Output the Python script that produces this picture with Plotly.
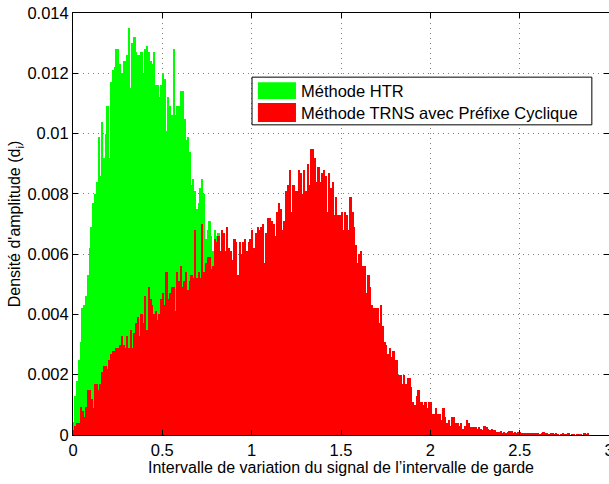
import numpy as np
import plotly.graph_objects as go

# Histogram bin width on the x axis
BIN_WIDTH = 0.01

# Amplitude density per bin, HTR method (bins start at x = 0)
htr_density = [
    0.00044, 0.0013, 0.0018, 0.0025, 0.0031, 0.0042, 0.0043, 0.0046, 0.0053, 0.0062,
    0.0069, 0.0077, 0.0080, 0.0084, 0.0099, 0.0086, 0.0104, 0.0092, 0.0100, 0.0109,
    0.0092, 0.0117, 0.0121, 0.0122, 0.0128, 0.0128, 0.0123, 0.0120, 0.0124, 0.0124,
    0.0126, 0.0135, 0.0115, 0.0130, 0.0132, 0.0127, 0.0126,
    0.0126, 0.0127, 0.0120, 0.0128, 0.0129, 0.0127, 0.0124, 0.0123, 0.0127, 0.0116,
    0.0116, 0.0112, 0.0116, 0.0120, 0.0118, 0.0101, 0.0112, 0.0109, 0.0106, 0.0128,
    0.0106, 0.0109, 0.0109, 0.0114, 0.0114, 0.0105, 0.0098, 0.0099, 0.0094, 0.0083,
    0.0085, 0.0081, 0.0075, 0.0077, 0.0082, 0.0085, 0.0080, 0.0065, 0.0068, 0.0071,
    0.0066, 0.0061,
    0.0068, 0.0066, 0.0067, 0.0056,
]

# Amplitude density per bin, TRNS method with cyclic prefix (bins start at x = 0)
trns_density = [
    # 0.00 - 0.37
    0.00017, 0.0003, 0.0004, 0.0004, 0.00094, 0.0008, 0.0006, 0.00094, 0.0015, 0.0015,
    0.0012, 0.0009, 0.0017, 0.0017, 0.0015, 0.0017, 0.0021, 0.0023, 0.0023, 0.0022,
    0.0025, 0.0027, 0.0028, 0.0028, 0.0029, 0.0029, 0.0030, 0.0033, 0.0030, 0.0029,
    0.0033, 0.0029, 0.0035, 0.0029, 0.0034, 0.0037, 0.0039,
    # 0.37 - 0.79
    0.0033, 0.0040, 0.0037, 0.0046, 0.0035, 0.0049, 0.0045, 0.0043, 0.0040, 0.0041,
    0.0038, 0.0040, 0.0045, 0.0047, 0.0043, 0.0054, 0.0045, 0.0047, 0.0049, 0.0049,
    0.0041, 0.0054, 0.0051, 0.0056, 0.0049, 0.0051, 0.0054, 0.0048, 0.0051, 0.0053,
    0.0052, 0.0068, 0.0052, 0.0054, 0.0052, 0.0070, 0.0054, 0.0057, 0.0059, 0.0059,
    0.0055, 0.0056,
    # 0.79 - 1.36
    0.0065, 0.0064, 0.0066, 0.0061, 0.0068, 0.0067, 0.0061, 0.0069, 0.0062, 0.0061,
    0.0058, 0.0065, 0.0064, 0.0053, 0.0064, 0.0060, 0.0064, 0.0065, 0.0061, 0.0064,
    0.0065, 0.0068, 0.0062, 0.0067, 0.0069, 0.0068, 0.0069, 0.0070, 0.0057, 0.0067,
    0.0072, 0.0072, 0.0071, 0.0070, 0.0066, 0.0074, 0.0077, 0.0075, 0.0068, 0.0071,
    0.0081, 0.0083, 0.0088, 0.0074, 0.0083, 0.0081, 0.0081, 0.0088, 0.0087, 0.0080,
    0.0088, 0.0081, 0.0090, 0.0083, 0.0095, 0.0095, 0.0092,
    # 1.36 - 1.99
    0.0084, 0.0089, 0.0084, 0.0087, 0.0088, 0.0086, 0.0074, 0.0087, 0.0082, 0.0084,
    0.0073, 0.0079, 0.0073, 0.0073, 0.0074, 0.0068, 0.0074, 0.0073, 0.0068, 0.0079,
    0.0074, 0.0069, 0.0063, 0.0057, 0.0060, 0.0061, 0.0056, 0.0056, 0.0047, 0.0053,
    0.0049, 0.0043, 0.0042, 0.0042, 0.0042, 0.0037, 0.0043, 0.0036, 0.0031, 0.0030,
    0.0027, 0.0029, 0.0026, 0.0028, 0.0025, 0.0025, 0.0020, 0.0020, 0.0017, 0.0020,
    0.0017, 0.0019, 0.0019, 0.0016, 0.0011, 0.0010, 0.0013, 0.0015, 0.0011, 0.0011,
    0.0010, 0.0011, 0.0009,
    # 1.99 - 2.38
    0.0011, 0.0011, 0.0007, 0.0007, 0.0009, 0.0007, 0.0007, 0.0005, 0.0009, 0.0006,
    0.0004, 0.0005, 0.0003, 0.0006, 0.0006, 0.0004, 0.0004, 0.0003, 0.0004, 0.0002,
    0.0003, 0.0005, 0.0004, 0.00028, 0.00028, 0.00028, 0.00028, 0.0002, 0.00028, 0.0002,
    0.00017, 0.0003, 0.00025, 0.0002, 0.00017, 0.0002, 0.00017, 0.00017, 0.0001,
    # 2.38 - 2.90
    0.0001, 0.00012, 0.00008, 0.0001, 0.00006, 0.0001, 0.00014, 0.00012, 0.00008, 0.0001,
    0.00006, 0.0001, 0.0001, 0.00004, 0.00008, 0.00006, 0.00004, 0.00008, 0.00008, 0.00004,
    0.00006, 0.00008, 0.00004, 0.00002, 0.00006, 0.0001, 0.00004, 0.00004, 0.00002, 0.00006,
    0.00006, 0.00002, 0.00004, 0.00002, 0.0, 0.00002, 0.00004, 0.00002, 0.00002, 0.00004,
    0.0, 0.00002, 0.00002, 0.0, 0.00002, 0.00002, 0.00002, 0.0, 0.00004, 0.00002,
    0.00004, 0.0,
]

series_names = ["Méthode HTR", "Méthode TRNS avec Préfixe Cyclique"]
series_colors = ["#00ff00", "#ff0000"]

x_tickvals = [0, 0.5, 1, 1.5, 2, 2.5, 3]
x_ticktext = ["0", "0.5", "1", "1.5", "2", "2.5", "3"]
y_tickvals = [0, 0.002, 0.004, 0.006, 0.008, 0.01, 0.012, 0.014]
y_ticktext = ["0", "0.002", "0.004", "0.006", "0.008", "0.01", "0.012", "0.014"]

x_title = "Intervalle de variation du signal de l’intervalle de garde"
y_title = "Densité d'amplitude (d<sub>i</sub>)"

FONT = "Liberation Sans, Arial, Helvetica, sans-serif"


def bin_centers(n):
    return (np.arange(n) + 0.5) * BIN_WIDTH


fig = go.Figure()
for values, name, color in zip([htr_density, trns_density], series_names, series_colors):
    fig.add_trace(go.Bar(
        x=bin_centers(len(values)),
        y=values,
        width=BIN_WIDTH,
        name=name,
        marker=dict(color=color, line=dict(width=0)),
        showlegend=False,
    ))

axis_common = dict(
    showline=True, linecolor="black", linewidth=1, mirror="ticks",
    ticks="inside", ticklen=5, tickcolor="black",
    showgrid=True, gridcolor="#808080", gridwidth=1, griddash="1px,4px",
    zeroline=False, automargin=False,
    tickfont=dict(family=FONT, size=16.5, color="black"),
)

fig.update_xaxes(
    range=[0, 3], tickvals=x_tickvals, ticktext=x_ticktext,
    ticklabeloverflow="allow",
    title=dict(text=x_title, font=dict(family=FONT, size=16, color="black"), standoff=4),
    **axis_common,
)
fig.update_yaxes(
    range=[0, 0.014], tickvals=y_tickvals, ticktext=y_ticktext,
    title=dict(text=y_title, font=dict(family=FONT, size=16, color="black"), standoff=2),
    **axis_common,
)

# Legend box drawn in paper coordinates: framed box, colour swatches and labels
legend_box = dict(x0=0.334, x1=0.968, y0=0.735, y1=0.848)
swatch_x = (0.345, 0.416)
swatch_rows = [(0.796, 0.836), (0.742, 0.787)]
label_rows = [0.815, 0.764]

fig.add_shape(type="rect", xref="paper", yref="paper", layer="above",
              line=dict(color="black", width=1), fillcolor="white", **legend_box)
for (y0, y1), ly, name, color in zip(swatch_rows, label_rows, series_names, series_colors):
    fig.add_shape(type="rect", xref="paper", yref="paper", layer="above",
                  x0=swatch_x[0], x1=swatch_x[1], y0=y0, y1=y1,
                  line=dict(width=0), fillcolor=color)
    fig.add_annotation(xref="paper", yref="paper", x=0.4216, y=ly, text=name,
                       showarrow=False, xanchor="left", yanchor="middle",
                       font=dict(family=FONT, size=16.5, color="black"))

fig.update_layout(
    width=609, height=484,
    margin=dict(l=73, r=0, t=13, b=49),
    paper_bgcolor="white", plot_bgcolor="white",
    barmode="overlay", bargap=0,
    font=dict(family=FONT, color="black"),
)

fig.write_html("out.html")
